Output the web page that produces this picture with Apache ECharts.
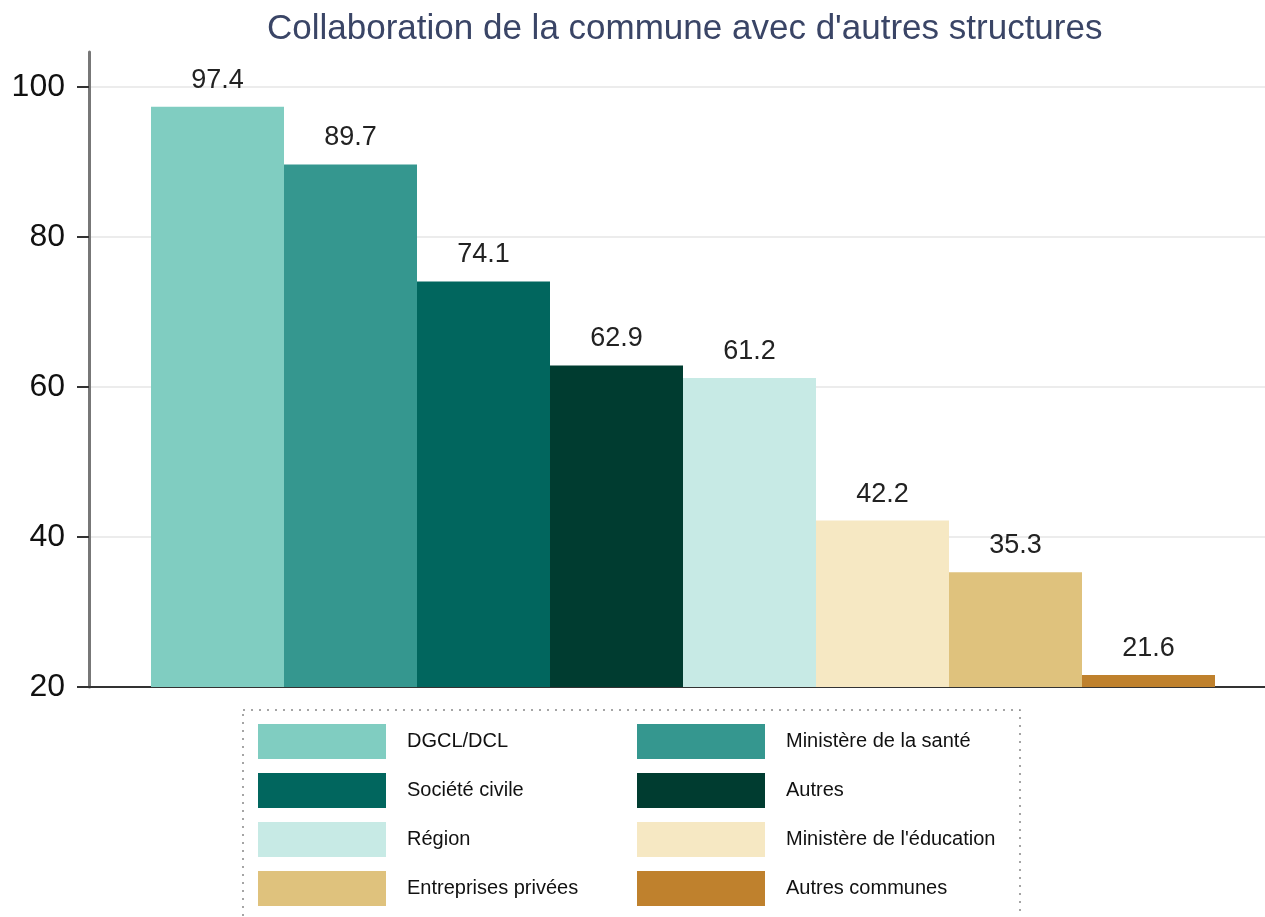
<!DOCTYPE html>
<html>
<head>
<meta charset="utf-8">
<script src="https://cdn.jsdelivr.net/npm/echarts@6/dist/echarts.min.js"></script>
<style>
  html, body { margin: 0; padding: 0; background: #fff; }
  #chart { width: 1265px; height: 917px; }
</style>
</head>
<body>
<div id="chart"></div>
<script>
// données
const structures = ['DGCL/DCL', 'Ministère de la santé', 'Société civile', 'Autres',
  'Région', "Ministère de l'éducation", 'Entreprises privées', 'Autres communes'];
const valeurs = [97.4, 89.7, 74.1, 62.9, 61.2, 42.2, 35.3, 21.6];
const couleurs = ['#80cdc1', '#35978f', '#01665e', '#003c30', '#c7eae5', '#f6e8c3', '#dfc27d', '#bf812d'];
const yTicks = [20, 40, 60, 80, 100];

const chart = echarts.init(document.getElementById('chart'));

const series = structures.map((nom, i) => ({
  name: nom,
  type: 'bar',
  data: [valeurs[i]],
  barWidth: 133,
  barGap: '0%',
  itemStyle: { color: couleurs[i] },
  label: {
    show: true,
    position: 'top',
    distance: 13,
    fontFamily: 'Liberation Sans',
    fontSize: 27,
    color: '#222',
    formatter: p => p.value.toFixed(1)
  }
}));

// légende en deux colonnes : une légende par colonne
const legendeCommune = {
  orient: 'vertical',
  top: 719,
  itemWidth: 128,
  itemHeight: 35,
  itemGap: 14,
  icon: 'rect',
  textStyle: {
    fontFamily: 'Liberation Sans',
    fontSize: 20,
    color: '#111',
    padding: [0, 0, 0, 16]
  }
};

const option = {
  animation: false,
  title: {
    text: "Collaboration de la commune avec d'autres structures",
    left: 262,
    top: 7,
    textStyle: { fontFamily: 'Liberation Sans', fontSize: 35, fontWeight: 'normal', color: '#3a4566' }
  },
  grid: { left: 89, right: -12, top: 52, bottom: 230, outerBoundsMode: 'none' },
  xAxis: {
    type: 'category',
    data: ['Collaboration'],
    axisLine: { lineStyle: { color: '#333', width: 2 } },
    axisTick: { show: false },
    axisLabel: { show: false }
  },
  yAxis: {
    type: 'value',
    min: yTicks[0],
    max: 104.7,
    interval: 20,
    axisLine: { show: true, lineStyle: { color: '#777', width: 3 } },
    axisTick: { show: true, length: 12, lineStyle: { color: '#333', width: 2 } },
    axisLabel: {
      margin: 24,
      fontFamily: 'Liberation Sans',
      fontSize: 32,
      color: '#111',
      showMaxLabel: false
    },
    splitLine: { showMaxLine: false, lineStyle: { color: '#ececec', width: 2 } }
  },
  legend: [
    Object.assign({}, legendeCommune, { left: 253, data: structures.filter((s, i) => i % 2 === 0) }),
    Object.assign({}, legendeCommune, { left: 632, data: structures.filter((s, i) => i % 2 === 1) })
  ],
  graphic: [{
    type: 'rect',
    shape: { x: 243, y: 710, width: 777, height: 230 },
    style: { fill: 'none', stroke: '#888', lineWidth: 1.5, lineDash: [2, 6] },
    silent: true
  }],
  series: series
};

chart.setOption(option);
</script>
</body>
</html>
